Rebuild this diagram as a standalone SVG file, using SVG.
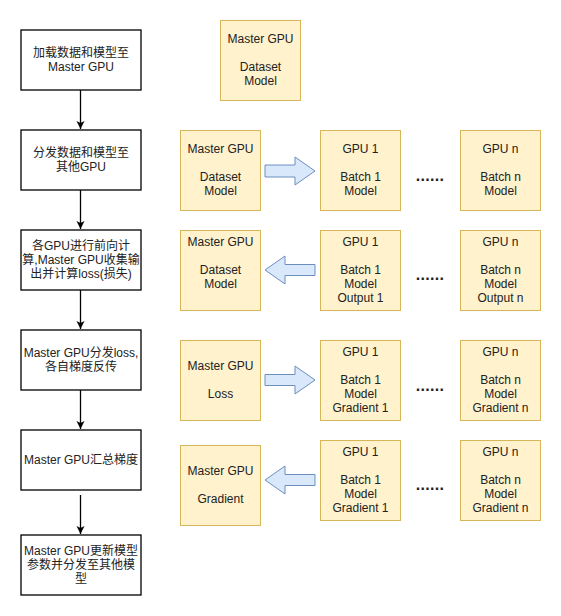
<svg xmlns="http://www.w3.org/2000/svg" width="561" height="616" viewBox="0 0 561 616">
<defs>
<style>
text{font-family:"Liberation Sans",Arial,"Noto Sans CJK SC",sans-serif;font-size:12px;fill:#222;text-anchor:middle;dominant-baseline:central}
.step{fill:#fff;stroke:#000;stroke-width:1.3}
.gpu{fill:#fff2cc;stroke:#d6b656;stroke-width:1}
.blk{fill:#dae8fc;stroke:#6c8ebf;stroke-width:1}
.flow{stroke:#000;stroke-width:1.3;fill:none;marker-end:url(#ah)}
.dots{font-size:16px;font-weight:bold;letter-spacing:0.3px}
</style>
<marker id="ah" markerWidth="10" markerHeight="10" refX="8" refY="5" orient="auto" markerUnits="userSpaceOnUse">
<path d="M0,1 L8,5 L0,9 L2,5 Z" fill="#000"/>
</marker>
</defs>
<rect width="561" height="616" fill="#fff"/>

<g id="connectors">
<path class="flow" d="M80.5,90 V129"/>
<path class="flow" d="M80.5,190 V229"/>
<path class="flow" d="M80.5,290 V329"/>
<path class="flow" d="M80.5,390 V429"/>
<path class="flow" d="M80.5,495 V534"/>
<path class="blk" d="M265,165 H295 V157 L315,171 L295,185 V177 H265 Z"/>
<path class="blk" d="M315,264.5 H285 V256 L265,270 L285,284 V275.5 H315 Z"/>
<path class="blk" d="M265,374.5 H295 V366 L315,380 L295,394 V385.5 H265 Z"/>
<path class="blk" d="M315,474.5 H285 V466 L265,480 L285,494 V485.5 H315 Z"/>
</g>

<g id="step1"><rect class="step" x="21" y="30" width="120" height="60"/><text x="81" y="53">加载数据和模型至</text><text x="81" y="67">Master GPU</text></g>
<g id="step2"><rect class="step" x="21" y="130" width="120" height="60"/><text x="81" y="153">分发数据和模型至</text><text x="81" y="167">其他GPU</text></g>
<g id="step3"><rect class="step" x="21" y="230" width="120" height="60"/><text x="81" y="246">各GPU进行前向计</text><text x="81" y="260">算,Master GPU收集输</text><text x="81" y="274">出并计算loss(损失)</text></g>
<g id="step4"><rect class="step" x="21" y="330" width="120" height="60"/><text x="81" y="353">Master GPU分发loss,</text><text x="81" y="367">各自梯度反传</text></g>
<g id="step5"><rect class="step" x="21" y="430" width="120" height="60"/><text x="81" y="460">Master GPU汇总梯度</text></g>
<g id="step6"><rect class="step" x="21" y="535" width="120" height="60"/><text x="81" y="551">Master GPU更新模型</text><text x="81" y="565">参数并分发至其他模</text><text x="81" y="579">型</text></g>

<g id="master0"><rect class="gpu" x="220.5" y="20.5" width="80" height="80"/><text x="260.5" y="39">Master GPU</text><text x="260.5" y="67">Dataset</text><text x="260.5" y="81">Model</text></g>

<g id="master1"><rect class="gpu" x="180.5" y="130.5" width="80" height="80"/><text x="220.5" y="149">Master GPU</text><text x="220.5" y="177">Dataset</text><text x="220.5" y="191">Model</text></g>
<g id="gpu1-1"><rect class="gpu" x="320.5" y="130.5" width="80" height="80"/><text x="360.5" y="149">GPU 1</text><text x="360.5" y="177">Batch 1</text><text x="360.5" y="191">Model</text></g>
<g id="gpun-1"><rect class="gpu" x="460.5" y="130.5" width="80" height="80"/><text x="500.5" y="149">GPU n</text><text x="500.5" y="177">Batch n</text><text x="500.5" y="191">Model</text></g>
<text class="dots" x="430" y="175">......</text>

<g id="master2"><rect class="gpu" x="180.5" y="230.5" width="80" height="80"/><text x="220.5" y="242">Master GPU</text><text x="220.5" y="270">Dataset</text><text x="220.5" y="284">Model</text></g>
<g id="gpu1-2"><rect class="gpu" x="320.5" y="230.5" width="80" height="80"/><text x="360.5" y="242">GPU 1</text><text x="360.5" y="270">Batch 1</text><text x="360.5" y="284">Model</text><text x="360.5" y="298">Output 1</text></g>
<g id="gpun-2"><rect class="gpu" x="460.5" y="230.5" width="80" height="80"/><text x="500.5" y="242">GPU n</text><text x="500.5" y="270">Batch n</text><text x="500.5" y="284">Model</text><text x="500.5" y="298">Output n</text></g>
<text class="dots" x="430" y="274">......</text>

<g id="master3"><rect class="gpu" x="180.5" y="340.5" width="80" height="80"/><text x="220.5" y="366">Master GPU</text><text x="220.5" y="394">Loss</text></g>
<g id="gpu1-3"><rect class="gpu" x="320.5" y="340.5" width="80" height="80"/><text x="360.5" y="352">GPU 1</text><text x="360.5" y="380">Batch 1</text><text x="360.5" y="394">Model</text><text x="360.5" y="408">Gradient 1</text></g>
<g id="gpun-3"><rect class="gpu" x="460.5" y="340.5" width="80" height="80"/><text x="500.5" y="352">GPU n</text><text x="500.5" y="380">Batch n</text><text x="500.5" y="394">Model</text><text x="500.5" y="408">Gradient n</text></g>
<text class="dots" x="430" y="385">......</text>

<g id="master4"><rect class="gpu" x="180.5" y="445.5" width="80" height="80"/><text x="220.5" y="471">Master GPU</text><text x="220.5" y="499">Gradient</text></g>
<g id="gpu1-4"><rect class="gpu" x="320.5" y="440.5" width="80" height="80"/><text x="360.5" y="452">GPU 1</text><text x="360.5" y="480">Batch 1</text><text x="360.5" y="494">Model</text><text x="360.5" y="508">Gradient 1</text></g>
<g id="gpun-4"><rect class="gpu" x="460.5" y="440.5" width="80" height="80"/><text x="500.5" y="452">GPU n</text><text x="500.5" y="480">Batch n</text><text x="500.5" y="494">Model</text><text x="500.5" y="508">Gradient n</text></g>
<text class="dots" x="430" y="484">......</text>
</svg>
